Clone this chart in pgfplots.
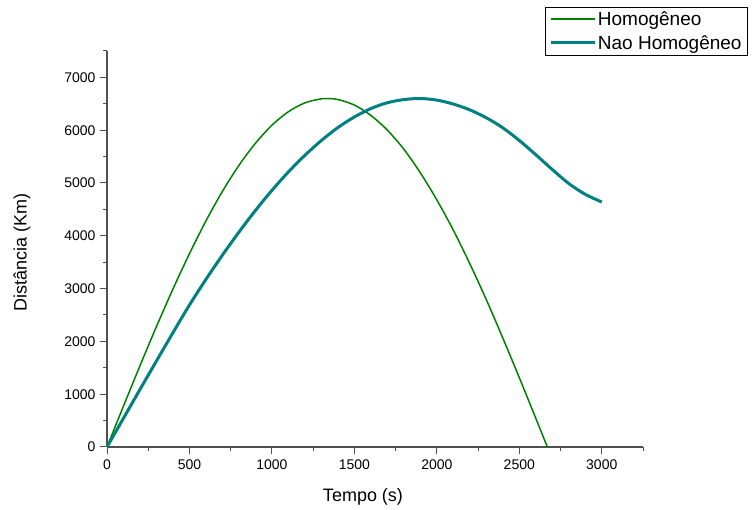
\documentclass[border=0pt]{standalone}
\usepackage{fontspec}
\setmainfont{Liberation Sans}
\usepackage{pgfplots}
\pgfplotsset{compat=1.18}
\definecolor{cgreen}{RGB}{0,128,0}
\definecolor{cteal}{RGB}{0,128,128}
\definecolor{caxis}{RGB}{80,80,80}
\begin{document}
\begin{tikzpicture}[x=1pt,y=1pt]
\useasboundingbox (0,0) rectangle (754,510);
\begin{axis}[
  at={(107pt,63pt)}, anchor=south west,
  scale only axis, width=536pt, height=396pt,
  xmin=0, xmax=3250, ymin=0, ymax=7500,
  axis x line=bottom, axis y line=left,
  axis line style={-, caxis, line width=1.1pt},
  every tick/.style={caxis, line width=1pt},
  tick align=outside,
  major tick length=7pt, minor tick length=4pt,
  xtick={0,500,...,3000}, ytick={0,1000,...,7000},
  minor xtick={250,750,...,3250}, minor ytick={500,1500,...,7500},
  /pgf/number format/assume math mode=true,
  /pgf/number format/set thousands separator={},
  tick label style={font=\fontsize{14}{16}\selectfont, black},
  xticklabel style={yshift=-2pt},
  yticklabel style={xshift=-1pt},
  xlabel={Tempo (s)}, ylabel={Distância (Km)},
  label style={font=\fontsize{18}{20}\selectfont, black},
  xlabel style={at={(axis description cs:0.4776,-0.126)}, anchor=center},
  ylabel style={at={(axis description cs:-0.1586,0.49)}, anchor=center},
  clip=false,
  legend cell align=left,
  legend style={at={(axis description cs:0.8172,1.1111)}, anchor=north west,
    draw=black, line width=0.8pt, fill=white,
    font=\fontsize{19}{21}\selectfont, inner xsep=4pt, inner ysep=3pt,
    row sep=5pt,
    nodes={inner sep=1.5pt}},
  legend image code/.code={\draw[#1] (0pt,0.4pt) -- (44pt,0.4pt);},
]
\addlegendimage{draw=cgreen, line width=1.8pt}
\addlegendentry{Homogêneo}
\addlegendimage{draw=cteal, line width=3pt}
\addlegendentry{Nao Homogêneo}
\addplot[cgreen, line width=1.5pt, smooth, forget plot] coordinates {
(0,0) (100,775) (200,1539) (300,2282) (400,2993) (500,3662) (600,4282)
(700,4842) (800,5334) (900,5752) (1000,6094) (1100,6350) (1200,6518)
(1300,6595) (1335,6600) (1400,6581) (1500,6476) (1600,6280) (1700,6001)
(1800,5639) (1900,5192) (2000,4679) (2100,4106) (2200,3470) (2300,2789)
(2400,2063) (2500,1313) (2600,543) (2670,0)
};
\addplot[cteal, line width=3pt, smooth, forget plot] coordinates {
(0,0) (100,545) (200,1090) (300,1630) (400,2165) (500,2690) (600,3175)
(700,3635) (800,4070) (900,4480) (1000,4860) (1100,5210) (1200,5525)
(1300,5805) (1400,6050) (1500,6250) (1600,6410) (1700,6520) (1800,6580)
(1900,6600) (2000,6570) (2100,6495) (2200,6385) (2300,6235) (2400,6045)
(2500,5805) (2600,5535) (2700,5255) (2800,4990) (2900,4785) (3000,4640)
};
\end{axis}
\end{tikzpicture}
\end{document}
